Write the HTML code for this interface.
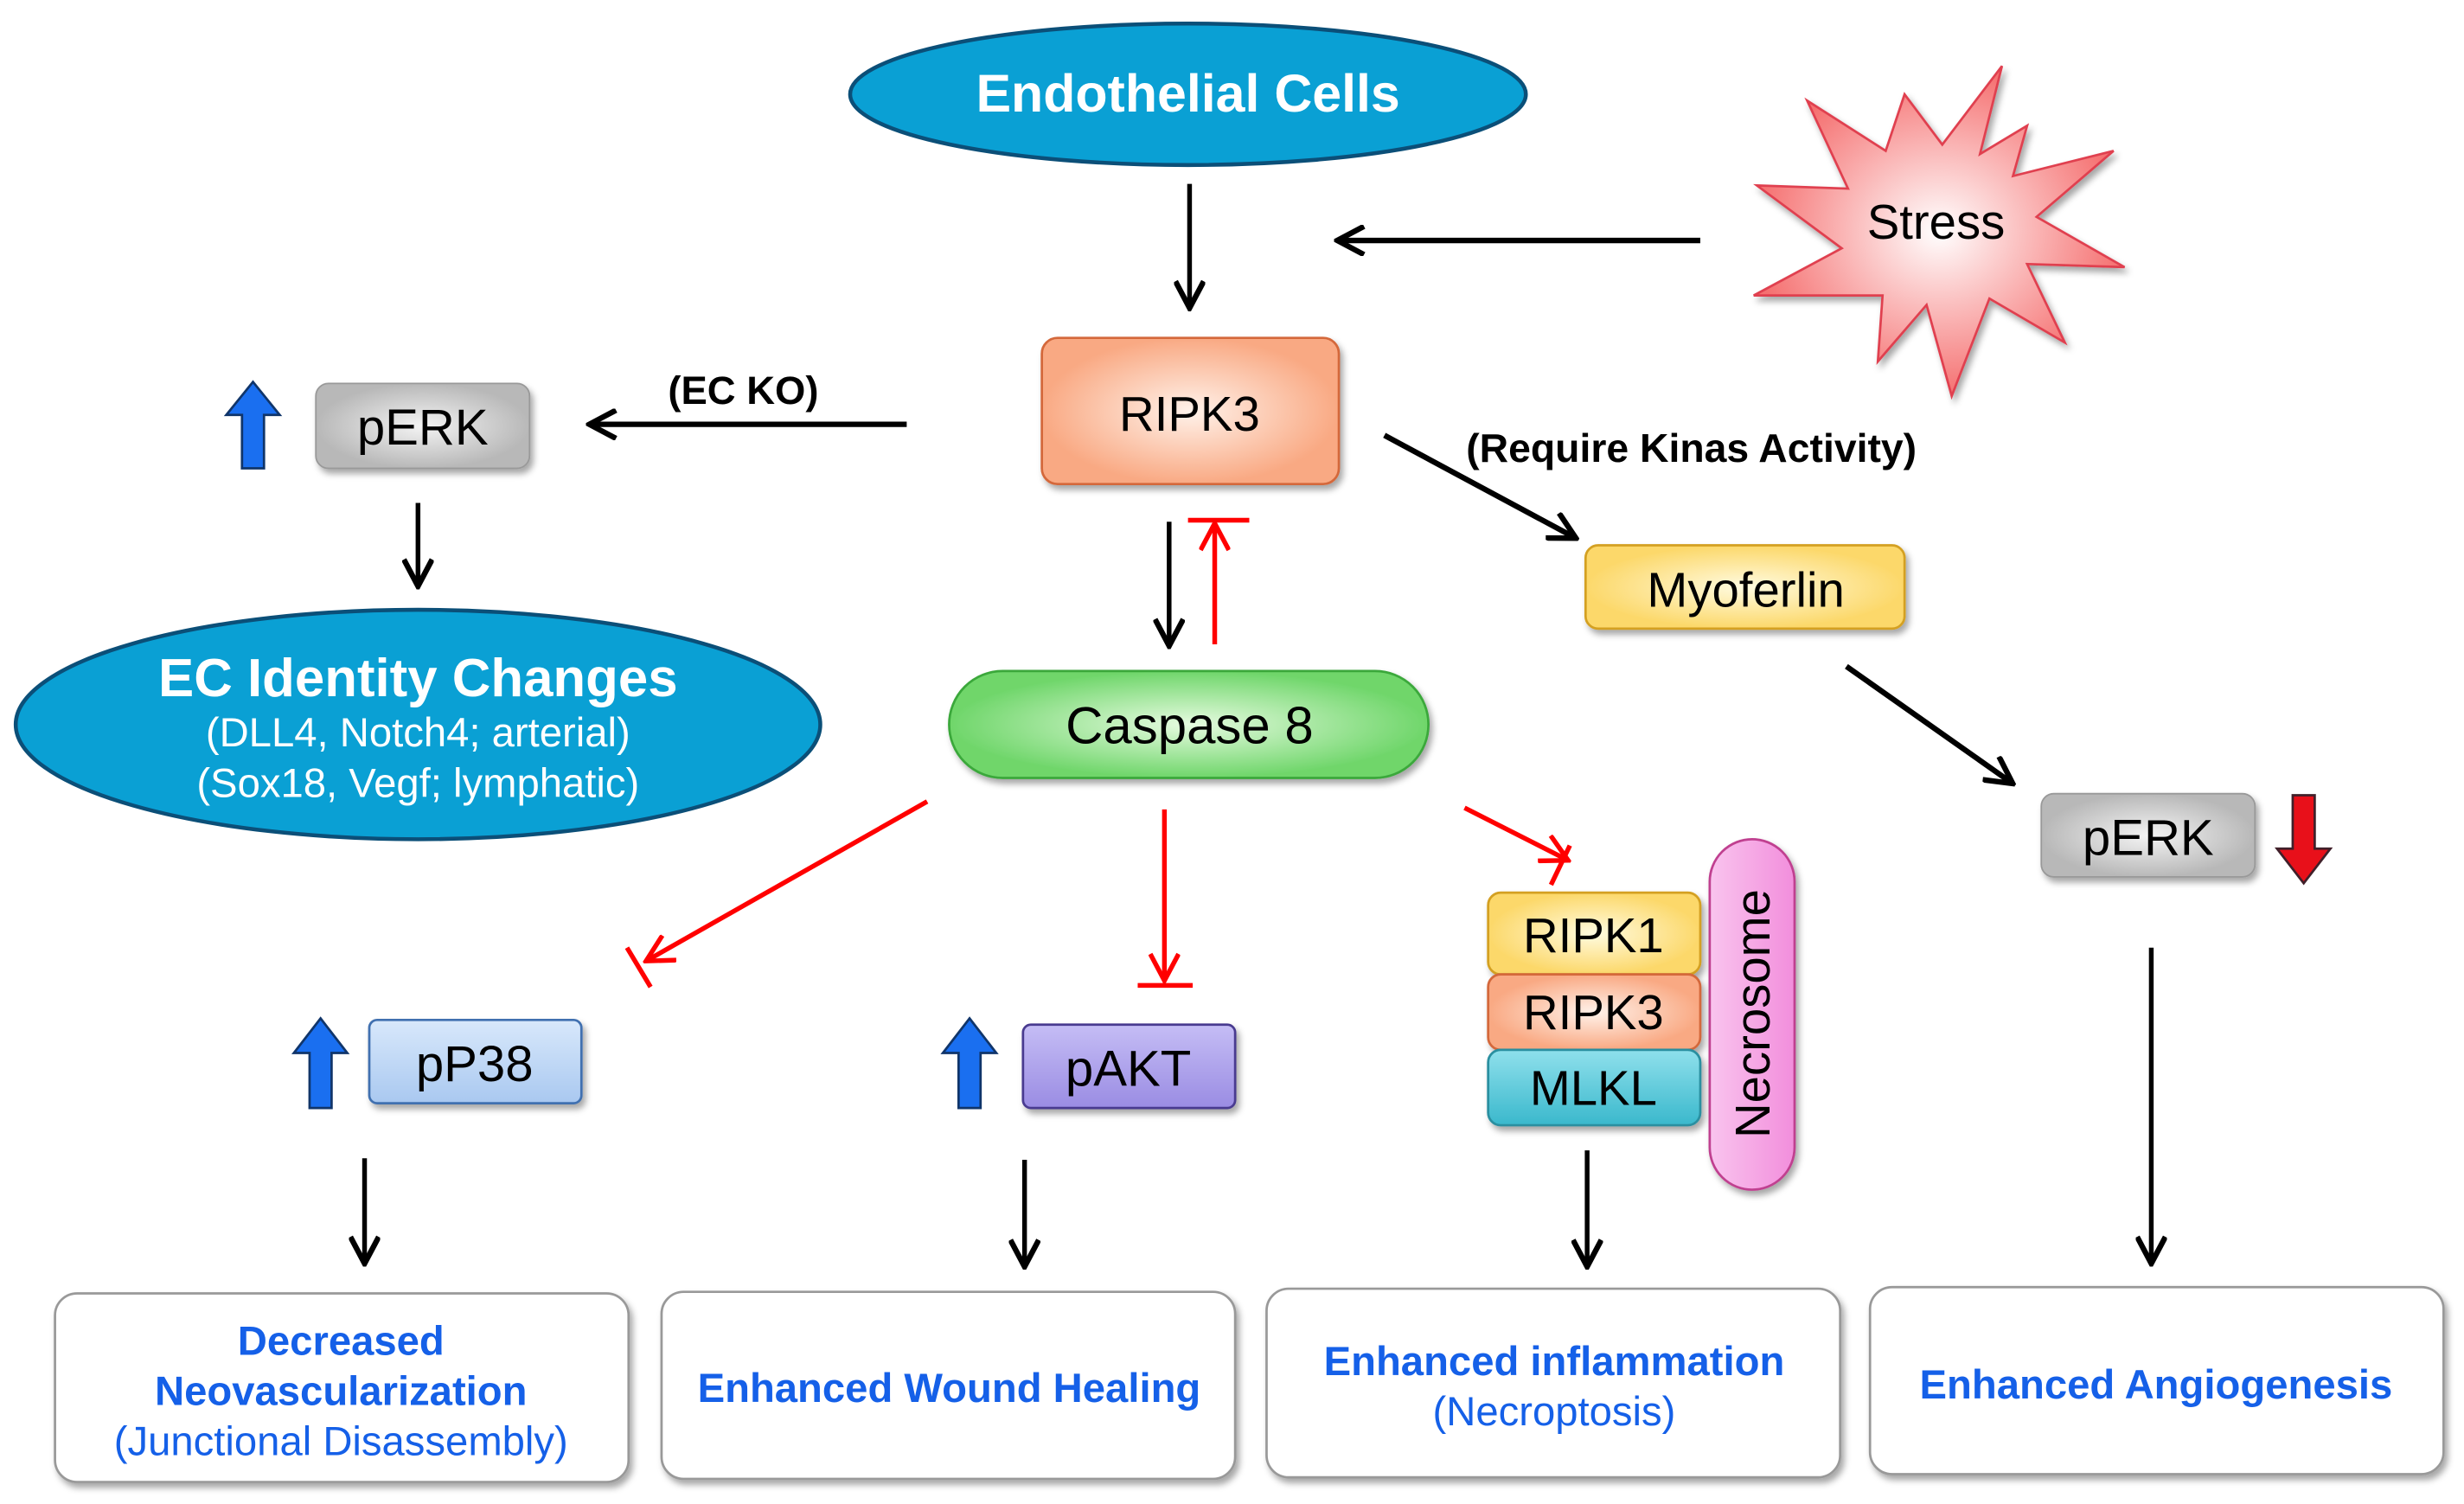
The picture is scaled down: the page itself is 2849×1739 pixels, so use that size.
<!DOCTYPE html>
<html><head><meta charset="utf-8"><style>
html,body{margin:0;padding:0;background:#fff;}
svg{display:block;}
text{font-family:"Liberation Sans",Arial,sans-serif;}
</style></head><body>
<svg width="2849" height="1739" viewBox="0 0 1568 957" preserveAspectRatio="none" xmlns="http://www.w3.org/2000/svg">
<defs>
<marker id="ab2" markerWidth="20" markerHeight="20" refX="17" refY="10" orient="auto" markerUnits="userSpaceOnUse"><path d="M1,1 L18,10 L1,19" fill="none" stroke="#000" stroke-width="3.5"/></marker>
<marker id="ar" markerWidth="20" markerHeight="20" refX="17" refY="10" orient="auto" markerUnits="userSpaceOnUse"><path d="M1,1 L18,10 L1,19" fill="none" stroke="#f00" stroke-width="3"/></marker>
<radialGradient id="gPeach"><stop offset="0" stop-color="#fff2ea"/><stop offset="1" stop-color="#f9a983"/></radialGradient>
<radialGradient id="gGrey"><stop offset="0" stop-color="#f4f4f4"/><stop offset="1" stop-color="#b8b8b8"/></radialGradient>
<radialGradient id="gGreen"><stop offset="0" stop-color="#e6fbe0"/><stop offset="1" stop-color="#6fd66a"/></radialGradient>
<radialGradient id="gYel"><stop offset="0" stop-color="#fffbe0"/><stop offset="1" stop-color="#fcd86a"/></radialGradient>
<radialGradient id="gStar"><stop offset="0" stop-color="#fff"/><stop offset="1" stop-color="#f57070"/></radialGradient>
<linearGradient id="gBlue" x1="0" y1="0" x2="0" y2="1"><stop offset="0" stop-color="#d8e8fb"/><stop offset="1" stop-color="#a9c8f0"/></linearGradient>
<linearGradient id="gPur" x1="0" y1="0" x2="0" y2="1"><stop offset="0" stop-color="#c5bdf5"/><stop offset="1" stop-color="#9a8ce3"/></linearGradient>
<linearGradient id="gTeal" x1="0" y1="0" x2="0" y2="1"><stop offset="0" stop-color="#8fe0ec"/><stop offset="1" stop-color="#3ab8cc"/></linearGradient>
<linearGradient id="gPink" x1="0" y1="0" x2="1" y2="0"><stop offset="0" stop-color="#f9c4ee"/><stop offset="1" stop-color="#f28edc"/></linearGradient>
<filter id="sh" x="-10%" y="-10%" width="130%" height="140%"><feDropShadow dx="2" dy="3" stdDeviation="2" flood-color="#000" flood-opacity="0.35"/></filter>
</defs>

<ellipse cx="756" cy="60" rx="215" ry="45" fill="#0aa0d4" stroke="#0b4f78" stroke-width="2.5"/>
<text x="756" y="71" text-anchor="middle" font-size="33.5" font-weight="bold" fill="#fff">Endothelial Cells</text>
<line x1="757" y1="117" x2="757" y2="195" stroke="#000" stroke-width="3" marker-end="url(#ab2)"/>

<polygon filter="url(#sh)" fill="url(#gStar)" stroke="#e04050" stroke-width="1.5" points="
1274,42 1260,98 1290,80 1281,112 1345,96 1296,138 1352,170 1290,168 1314,218 1266,190 1242,252 1226,194 1195,230 1198,188 1116,188 1172,158 1118,118 1176,120 1150,64 1200,96 1212,60 1236,92"/>
<text x="1232" y="152" text-anchor="middle" font-size="31">Stress</text>
<line x1="1082" y1="153" x2="852" y2="153" stroke="#000" stroke-width="3.5" marker-end="url(#ab2)"/>

<rect x="663" y="215" width="189" height="93" rx="10" fill="url(#gPeach)" stroke="#d4683a" stroke-width="1.5" filter="url(#sh)"/>
<text x="757" y="274" text-anchor="middle" font-size="31">RIPK3</text>

<text x="473" y="257" text-anchor="middle" font-size="25" font-weight="bold">(EC KO)</text>
<line x1="577" y1="270" x2="376" y2="270" stroke="#000" stroke-width="3.5" marker-end="url(#ab2)"/>

<polygon points="161,243 178,264 168,264 168,298 154,298 154,264 144,264" fill="#1a6ff0" stroke="#10356a" stroke-width="1.5"/>
<rect x="201" y="244" width="136" height="54" rx="8" fill="url(#gGrey)" stroke="#999" stroke-width="1" filter="url(#sh)"/>
<text x="269" y="283" text-anchor="middle" font-size="32">pERK</text>
<line x1="266" y1="320" x2="266" y2="372" stroke="#000" stroke-width="3" marker-end="url(#ab2)"/>

<ellipse cx="266" cy="461" rx="256" ry="73" fill="#0aa0d4" stroke="#0b4f78" stroke-width="2.5"/>
<text x="266" y="443" text-anchor="middle" font-size="34" font-weight="bold" fill="#fff">EC Identity Changes</text>
<text x="266" y="475" text-anchor="middle" font-size="26" fill="#fff">(DLL4, Notch4; arterial)</text>
<text x="266" y="507" text-anchor="middle" font-size="26" fill="#fff">(Sox18, Vegf; lymphatic)</text>

<line x1="744" y1="332" x2="744" y2="410" stroke="#000" stroke-width="3" marker-end="url(#ab2)"/>
<line x1="773" y1="410" x2="773" y2="334" stroke="#f00" stroke-width="3" marker-end="url(#ar)"/>
<line x1="756" y1="331" x2="795" y2="331" stroke="#f00" stroke-width="3"/>

<rect x="604" y="427" width="305" height="68" rx="34" fill="url(#gGreen)" stroke="#3aa83a" stroke-width="1.5" filter="url(#sh)"/>
<text x="757" y="473" text-anchor="middle" font-size="33">Caspase 8</text>

<text x="933" y="294" font-size="25.5" font-weight="bold">(Require Kinas Activity)</text>
<line x1="881" y1="277" x2="1002" y2="342" stroke="#000" stroke-width="3.5" marker-end="url(#ab2)"/>
<rect x="1009" y="347" width="203" height="53" rx="8" fill="url(#gYel)" stroke="#d4a020" stroke-width="1.5" filter="url(#sh)"/>
<text x="1111" y="386" text-anchor="middle" font-size="31">Myoferlin</text>
<line x1="1175" y1="424" x2="1280" y2="498" stroke="#000" stroke-width="3.5" marker-end="url(#ab2)"/>

<rect x="1299" y="505" width="136" height="53" rx="8" fill="url(#gGrey)" stroke="#999" stroke-width="1" filter="url(#sh)"/>
<text x="1367" y="544" text-anchor="middle" font-size="32">pERK</text>
<polygon points="1459,506 1473,506 1473,540 1483,540 1466,562 1449,540 1459,540" fill="#e8101a" stroke="#40202a" stroke-width="1.5"/>
<line x1="1369" y1="603" x2="1369" y2="803" stroke="#000" stroke-width="3" marker-end="url(#ab2)"/>

<line x1="590" y1="510" x2="412" y2="611" stroke="#f00" stroke-width="3" marker-end="url(#ar)"/>
<line x1="399" y1="603" x2="414" y2="628" stroke="#f00" stroke-width="3"/>
<line x1="741" y1="515" x2="741" y2="623" stroke="#f00" stroke-width="3" marker-end="url(#ar)"/>
<line x1="724" y1="627" x2="759" y2="627" stroke="#f00" stroke-width="3"/>
<line x1="932" y1="514" x2="997" y2="547" stroke="#f00" stroke-width="3" marker-end="url(#ar)"/>
<line x1="999" y1="538" x2="987" y2="563" stroke="#f00" stroke-width="3"/>

<polygon points="204,648 221,670 211,670 211,705 197,705 197,670 187,670" fill="#1a6ff0" stroke="#10356a" stroke-width="1.5"/>
<rect x="235" y="649" width="135" height="53" rx="5" fill="url(#gBlue)" stroke="#4070b0" stroke-width="1.5" filter="url(#sh)"/>
<text x="302" y="688" text-anchor="middle" font-size="32">pP38</text>

<polygon points="617,648 634,670 624,670 624,705 610,705 610,670 600,670" fill="#1a6ff0" stroke="#10356a" stroke-width="1.5"/>
<rect x="651" y="652" width="135" height="53" rx="5" fill="url(#gPur)" stroke="#4a3a90" stroke-width="1.5" filter="url(#sh)"/>
<text x="718" y="691" text-anchor="middle" font-size="32">pAKT</text>

<rect x="947" y="568" width="135" height="52" rx="8" fill="url(#gYel)" stroke="#d4a020" stroke-width="1.5" filter="url(#sh)"/>
<text x="1014" y="606" text-anchor="middle" font-size="31">RIPK1</text>
<rect x="947" y="620" width="135" height="48" rx="8" fill="url(#gPeach)" stroke="#d4683a" stroke-width="1.5" filter="url(#sh)"/>
<text x="1014" y="655" text-anchor="middle" font-size="31">RIPK3</text>
<rect x="947" y="668" width="135" height="48" rx="8" fill="url(#gTeal)" stroke="#2a8fa0" stroke-width="1.5" filter="url(#sh)"/>
<text x="1014" y="703" text-anchor="middle" font-size="31">MLKL</text>
<rect x="1088" y="534" width="54" height="223" rx="27" fill="url(#gPink)" stroke="#c04090" stroke-width="1.5" filter="url(#sh)"/>
<text x="0" y="0" transform="translate(1126,645) rotate(-90)" text-anchor="middle" font-size="31">Necrosome</text>

<line x1="232" y1="737" x2="232" y2="803" stroke="#000" stroke-width="3" marker-end="url(#ab2)"/>
<line x1="652" y1="738" x2="652" y2="805" stroke="#000" stroke-width="3" marker-end="url(#ab2)"/>
<line x1="1010" y1="732" x2="1010" y2="805" stroke="#000" stroke-width="3" marker-end="url(#ab2)"/>

<g fill="#fff" stroke="#999" stroke-width="1.5" filter="url(#sh)">
<rect x="35" y="823" width="365" height="120" rx="14"/>
<rect x="421" y="822" width="365" height="119" rx="14"/>
<rect x="806" y="820" width="365" height="120" rx="14"/>
<rect x="1190" y="819" width="365" height="119" rx="14"/>
</g>
<g fill="#1560e8" font-size="26" text-anchor="middle">
<text x="217" y="862" font-weight="bold">Decreased</text>
<text x="217" y="894" font-weight="bold">Neovascularization</text>
<text x="217" y="926">(Junctional Disassembly)</text>
<text x="604" y="892" font-weight="bold">Enhanced Wound Healing</text>
<text x="989" y="875" font-weight="bold">Enhanced inflammation</text>
<text x="989" y="907">(Necroptosis)</text>
<text x="1372" y="890" font-weight="bold">Enhanced Angiogenesis</text>
</g>
</svg>
</body></html>
